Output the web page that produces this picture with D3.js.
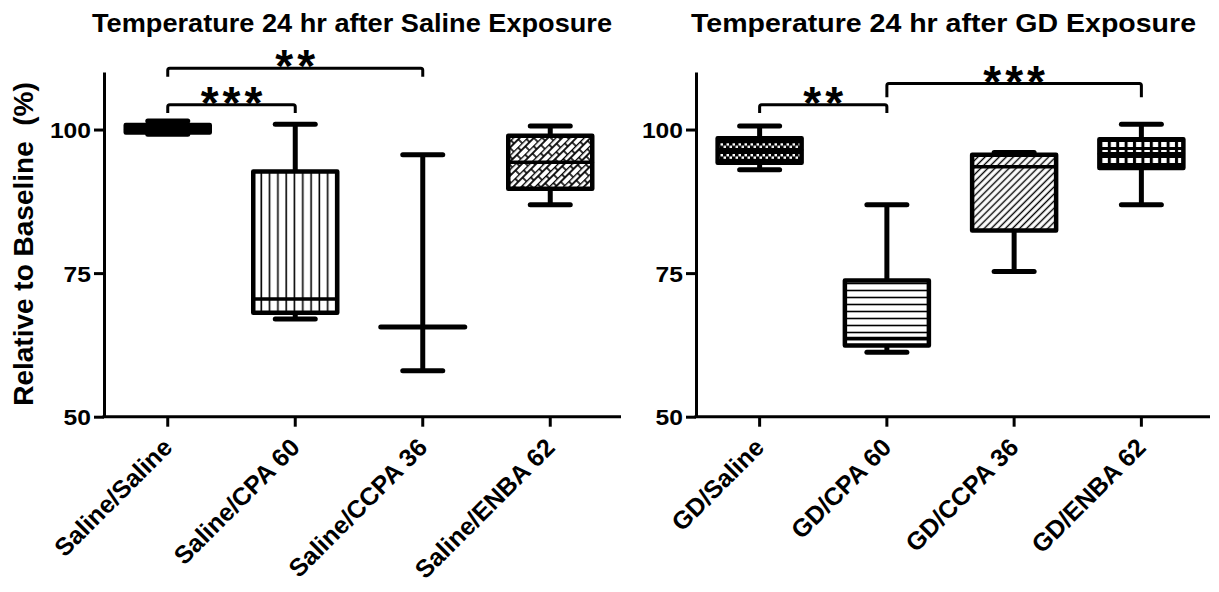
<!DOCTYPE html>
<html><head><meta charset="utf-8">
<script src="https://cdn.jsdelivr.net/npm/d3@7"></script>
<style>
body{margin:0;background:#fff}
text{font-family:"Liberation Sans",Arial,Helvetica,sans-serif;font-weight:bold;fill:#000}
</style>
</head><body>
<svg id="chart" width="1219" height="592"></svg>
<script>
// ---------------- data ----------------
const salineCategories = ["Saline/Saline", "Saline/CPA 60", "Saline/CCPA 36", "Saline/ENBA 62"];
const salineMin    = [99.2, 67.0, 58.0, 86.9];
const salineQ1     = [99.5, 68.1, 65.6, 89.7];
const salineMedian = [100.0, 70.5, 65.6, 94.3];
const salineQ3     = [100.8, 92.7, 65.6, 98.9];
const salineMax    = [101.5, 100.9, 95.6, 100.6];

const gdCategories = ["GD/Saline", "GD/CPA 60", "GD/CCPA 36", "GD/ENBA 62"];
const gdMin    = [93.0, 61.2, 75.3, 86.9];
const gdQ1     = [94.2, 62.4, 82.4, 93.3];
const gdMedian = [96.5, 63.6, 93.5, 95.8];
const gdQ3     = [98.5, 73.7, 95.6, 98.3];
const gdMax    = [100.6, 86.9, 96.0, 100.9];

const yTicks = [50, 75, 100];
const yDomain = [50, 110];

// significance brackets (category indices, label, bracket level and end level in data units)
const salineSigFrom  = [0, 0];
const salineSigTo    = [1, 2];
const salineSigLabel = ["***", "**"];
const salineSigLevel = [104.3, 110.65];
const salineSigEnd   = [102.9, 109.2];

const gdSigFrom  = [0, 1];
const gdSigTo    = [1, 3];
const gdSigLabel = ["**", "***"];
const gdSigLevel = [104.3, 108.0];
const gdSigEnd   = [102.9, 105.6];

const salineTitle = "Temperature 24 hr after Saline Exposure";
const gdTitle = "Temperature 24 hr after GD Exposure";
const yLabel = "Relative to Baseline  (%)";

// ---------------- drawing ----------------
const svg = d3.select("#chart");
const defs = svg.append("defs");

function pat(id, w, h, build, transform) {
  const p = defs.append("pattern").attr("id", id).attr("patternUnits", "userSpaceOnUse")
    .attr("width", w).attr("height", h);
  if (transform) p.attr("patternTransform", transform);
  p.append("rect").attr("width", w).attr("height", h).attr("fill", "#fff");
  build(p);
  return p;
}
pat("pDark", 8, 6, p => {
  p.append("rect").attr("width", 8).attr("height", 6).attr("fill", "#000");
});
pat("pVert", 8.3, 10, p => {
  p.append("line").attr("x1", 4).attr("x2", 4).attr("y1", 0).attr("y2", 10)
    .attr("stroke", "#000").attr("stroke-width", 1.6);
});
pat("pHoriz", 10, 7, p => {
  p.append("line").attr("x1", 0).attr("x2", 10).attr("y1", 3.5).attr("y2", 3.5)
    .attr("stroke", "#000").attr("stroke-width", 1.6);
});
pat("pDiag", 5, 10, p => {
  p.append("line").attr("x1", 2.5).attr("x2", 2.5).attr("y1", 0).attr("y2", 10)
    .attr("stroke", "#000").attr("stroke-width", 1.4);
}, "rotate(45)");
pat("pBrick", 10, 12, p => {
  p.append("line").attr("x1", 0).attr("x2", 0).attr("y1", 0).attr("y2", 12).attr("stroke", "#000").attr("stroke-width", 2.6);
  p.append("line").attr("x1", 5).attr("x2", 5).attr("y1", 0).attr("y2", 12).attr("stroke", "#000").attr("stroke-width", 1.8);
  p.append("line").attr("x1", 0).attr("x2", 5).attr("y1", 2).attr("y2", 2).attr("stroke", "#000").attr("stroke-width", 1.6);
  p.append("line").attr("x1", 5).attr("x2", 10).attr("y1", 8).attr("y2", 8).attr("stroke", "#000").attr("stroke-width", 1.6);
}, "rotate(45)");
const pc = defs.append("pattern").attr("id", "pCheck").attr("patternUnits", "userSpaceOnUse")
  .attr("x", 0).attr("y", 143.3).attr("width", 6).attr("height", 10.7);
pc.append("rect").attr("width", 6).attr("height", 10.7).attr("fill", "#000");
pc.append("rect").attr("x", 0.5).attr("y", 0).attr("width", 2.5).attr("height", 2.4).attr("fill", "#fff");
pc.append("rect").attr("x", 3.5).attr("y", 2.4).attr("width", 2.5).attr("height", 2.4).attr("fill", "#fff");
const pg = defs.append("pattern").attr("id", "pGrid").attr("patternUnits", "userSpaceOnUse")
  .attr("x", 0).attr("y", 140).attr("width", 8.4).attr("height", 8);
pg.append("rect").attr("width", 8.4).attr("height", 8).attr("fill", "#000");
pg.append("rect").attr("x", 2).attr("y", 2).attr("width", 5.4).attr("height", 5).attr("fill", "#fff");

const y = d3.scaleLinear().domain(yDomain).range([416.7, 72.1]);

function drawPanel(cfg) {
  const g = svg.append("g");
  const x = d3.scaleBand().domain(cfg.categories).range([cfg.x0, cfg.x1]);
  const cx = c => x(c) + x.bandwidth() / 2;

  const yAxis = d3.axisLeft(y).tickValues(yTicks).tickSize(10).tickSizeOuter(0).tickPadding(4);
  const ya = g.append("g").attr("transform", `translate(${cfg.x0},0)`).call(yAxis);
  ya.select(".domain").attr("stroke-width", 3).attr("stroke", "#000");
  ya.selectAll(".tick line").attr("stroke-width", 3).attr("stroke", "#000");
  ya.selectAll(".tick text").attr("font-size", 22).attr("x", -13 / 1.12)
    .attr("transform", "scale(1.12,1)").attr("dy", "0.36em");

  const xAxis = d3.axisBottom(x).tickSize(10).tickSizeOuter(0).tickFormat("");
  const xa = g.append("g").attr("transform", `translate(0,${y(yDomain[0])})`).call(xAxis);
  xa.select(".domain").remove();
  xa.append("line").attr("x1", cfg.x0 - 1.5).attr("x2", cfg.axisEnd).attr("y1", 0).attr("y2", 0)
    .attr("stroke", "#000").attr("stroke-width", 3);
  xa.selectAll(".tick line").attr("stroke-width", 3).attr("stroke", "#000");

  g.selectAll("text.cat").data(cfg.categories).join("text").attr("class", "cat")
    .attr("text-anchor", "end").attr("font-size", 25)
    .attr("transform", c => `translate(${cx(c) + 6},449) rotate(-45)`)
    .text(c => c);

  const half = 42, capHalf = 20;
  cfg.categories.forEach((c, i) => {
    const xc = cx(c);
    const bg = g.append("g");
    bg.append("line").attr("x1", xc).attr("x2", xc).attr("y1", y(cfg.max[i])).attr("y2", y(cfg.q3[i]))
      .attr("stroke", "#000").attr("stroke-width", 5);
    bg.append("line").attr("x1", xc).attr("x2", xc).attr("y1", y(cfg.q1[i])).attr("y2", y(cfg.min[i]))
      .attr("stroke", "#000").attr("stroke-width", 5);
    [cfg.max[i], cfg.min[i]].forEach(v => {
      bg.append("line").attr("x1", xc - capHalf).attr("x2", xc + capHalf).attr("y1", y(v)).attr("y2", y(v))
        .attr("stroke", "#000").attr("stroke-width", 5).attr("stroke-linecap", "round");
    });
    const h = y(cfg.q1[i]) - y(cfg.q3[i]);
    if (h > 0.5) {
      bg.append("rect").attr("x", xc - half).attr("y", y(cfg.q3[i])).attr("width", 2 * half).attr("height", h)
        .attr("fill", `url(#${cfg.patterns[i]})`).attr("stroke", "#000").attr("stroke-width", 4.5)
        .attr("stroke-linejoin", "round");
    }
    bg.append("line").attr("x1", xc - half).attr("x2", xc + half)
      .attr("y1", y(cfg.median[i])).attr("y2", y(cfg.median[i]))
      .attr("stroke", "#000").attr("stroke-width", h > 0.5 ? 3.5 : 5).attr("stroke-linecap", "round");
  });

  cfg.sigFrom.forEach((f, k) => {
    const xa1 = cx(cfg.categories[f]), xa2 = cx(cfg.categories[cfg.sigTo[k]]);
    const yl = y(cfg.sigLevel[k]), ye = y(cfg.sigEnd[k]);
    g.append("path").attr("d", `M${xa1},${ye}V${yl + 2}Q${xa1},${yl} ${xa1 + 2},${yl}H${xa2 - 2}Q${xa2},${yl} ${xa2},${yl + 2}V${ye}`)
      .attr("fill", "none").attr("stroke", "#000").attr("stroke-width", 3);
    g.append("text").attr("x", (xa1 + xa2) / 2 + 2).attr("y", yl + 14)
      .attr("text-anchor", "middle").attr("font-size", 46).attr("font-weight", "normal")
      .attr("letter-spacing", 4).text(cfg.sigLabel[k]);
  });

  g.append("text").attr("x", cfg.titleX).attr("y", 32).attr("font-size", 26)
    .attr("textLength", cfg.titleW).attr("lengthAdjust", "spacingAndGlyphs").text(cfg.title);
}

drawPanel({
  categories: salineCategories, min: salineMin, q1: salineQ1, median: salineMedian, q3: salineQ3, max: salineMax,
  sigFrom: salineSigFrom, sigTo: salineSigTo, sigLabel: salineSigLabel, sigLevel: salineSigLevel, sigEnd: salineSigEnd,
  patterns: ["pDark", "pVert", "pVert", "pBrick"],
  x0: 104, x1: 614, axisEnd: 621, title: salineTitle, titleX: 92, titleW: 520
});
drawPanel({
  categories: gdCategories, min: gdMin, q1: gdQ1, median: gdMedian, q3: gdQ3, max: gdMax,
  sigFrom: gdSigFrom, sigTo: gdSigTo, sigLabel: gdSigLabel, sigLevel: gdSigLevel, sigEnd: gdSigEnd,
  patterns: ["pCheck", "pHoriz", "pDiag", "pGrid"],
  x0: 696, x1: 1205, axisEnd: 1210, title: gdTitle, titleX: 691, titleW: 505
});

svg.append("text").attr("transform", "translate(33,244) rotate(-90)")
  .attr("text-anchor", "middle").attr("font-size", 28).style("white-space", "pre")
  .text(yLabel);
</script>
</body></html>
